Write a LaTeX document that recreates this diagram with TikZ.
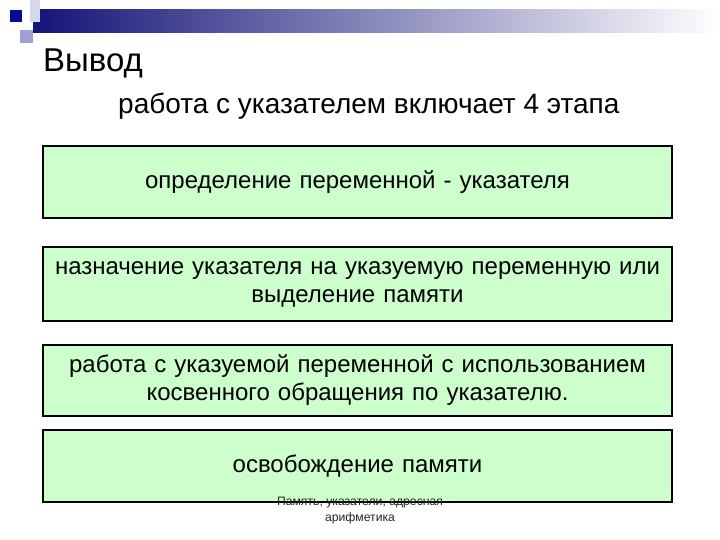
\documentclass[tikz,border=0pt]{standalone}
\usepackage{fontspec}
\setmainfont{Liberation Sans}
\usepackage{tikz}
\usetikzlibrary{calc}
\usetikzlibrary{positioning}
\definecolor{boxgreen}{RGB}{204,255,204}
\definecolor{barnavy}{RGB}{20,20,120}
\definecolor{sqdark}{RGB}{10,10,150}
\definecolor{sqlav}{RGB}{160,160,210}
\definecolor{sqpale}{RGB}{215,215,235}
\tikzstyle{stepbox} = [draw, line width=2pt, fill=boxgreen, minimum width=629pt, text width=625pt, align=center, inner sep=0pt, font=\fontsize{24}{28}\selectfont]
\tikzstyle{titletext} = [inner sep=0pt, font=\fontsize{33}{38}\selectfont]
\tikzstyle{subtext} = [inner sep=0pt, font=\fontsize{28}{32}\selectfont]
\tikzstyle{foottext} = [inner sep=0pt, align=center, text=black!85, font=\fontsize{12.2}{16}\selectfont]

\begin{document}
\begin{tikzpicture}[x=1pt, y=-1pt]
\useasboundingbox (0,0) rectangle (720,540);
% decoration in the corner
\shade[left color=barnavy, right color=white] (33,10) rectangle (720,33);
\fill[sqpale] (30,0) rectangle (40,22);
\fill[sqdark] (10,10) rectangle (22,22);
\fill[sqlav] (20,30) rectangle (33,43);

\node[titletext, anchor=base west] (title) at (43,72) {Вывод};
\node[subtext, anchor=base west] (sub) at (118,114) {работа с указателем включает 4 этапа};

\node[stepbox, minimum height=72pt] (define) at (357.5,182) {определение переменной - указателя};
\node[stepbox, minimum height=74pt] (assign) at (357.5,284) {назначение указателя на указуемую переменную или\\выделение памяти};
\node[stepbox, minimum height=71pt] (use) at (357.5,380.5) {работа с указуемой переменной с использованием\\косвенного обращения по указателю.};
\node[stepbox, minimum height=72pt] (free) at (357.5,466) {освобождение памяти};

\node[foottext, anchor=north] (foot) at (360,497) {Память, указатели, адресная\\арифметика};
\end{tikzpicture}
\end{document}
